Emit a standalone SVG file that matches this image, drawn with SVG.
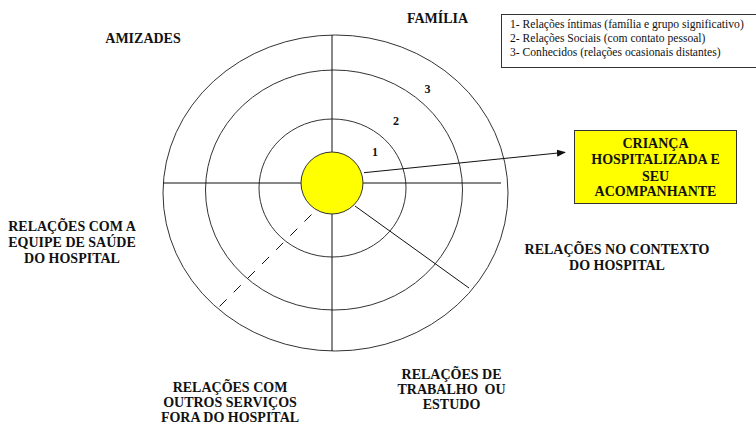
<svg xmlns="http://www.w3.org/2000/svg" width="756" height="424" viewBox="0 0 756 424">
<style>
.lbl{font-family:'Liberation Serif','Times New Roman',Times,'DejaVu Serif',serif;font-weight:bold;font-size:14px;fill:#111;text-anchor:middle;white-space:pre}
.num{font-family:'Liberation Serif','Times New Roman',Times,'DejaVu Serif',serif;font-weight:bold;font-size:12px;fill:#111;text-anchor:middle}
.leg{font-family:'Liberation Serif','Times New Roman',Times,'DejaVu Serif',serif;font-size:11.6px;fill:#111}
.ring{fill:none;stroke:#333;stroke-width:1}
.ln{stroke:#111;stroke-width:1;fill:none}
</style>
<defs>
<marker id="ah" viewBox="0 0 10 10" refX="9" refY="5" markerWidth="9" markerHeight="9" markerUnits="userSpaceOnUse" orient="auto">
<path d="M0,1 L10,5 L0,9 Z" fill="#111"/>
</marker>
</defs>
<rect width="756" height="424" fill="#fff"/>
<g id="rings">
<ellipse class="ring" cx="335.5" cy="193" rx="172.5" ry="158"/>
<ellipse class="ring" cx="334" cy="190" rx="128.5" ry="120"/>
<ellipse class="ring" cx="332.5" cy="188" rx="73.5" ry="69"/>
</g>
<g id="connectors">
<line class="ln" x1="332" y1="35" x2="332" y2="351"/>
<line class="ln" x1="163" y1="183" x2="501" y2="183"/>
<line class="ln" x1="355" y1="206" x2="469" y2="288"/>
<line class="ln" x1="311.5" y1="214.5" x2="216.5" y2="309.5" stroke-dasharray="10,10"/>
<line class="ln" x1="364" y1="172.7" x2="565" y2="152.3" marker-end="url(#ah)"/>
</g>
<g id="center">
<circle cx="332" cy="183" r="31" fill="#ffff00" stroke="#333" stroke-width="1"/>
</g>
<g id="numbers">
<text class="num" x="375" y="156">1</text>
<text class="num" x="396" y="124.5">2</text>
<text class="num" x="427.5" y="93">3</text>
</g>
<g id="legend">
<rect x="501.5" y="14.5" width="270" height="53" fill="#fff" stroke="#333" stroke-width="1"/>
<text class="leg" x="510" y="27.5">1- Relações íntimas (família e grupo significativo)</text>
<text class="leg" x="510" y="41.8">2- Relações Sociais (com contato pessoal)</text>
<text class="leg" x="510" y="56">3- Conhecidos (relações ocasionais distantes)</text>
</g>
<g id="crianca">
<rect x="574.5" y="130.5" width="162" height="73" fill="#ffff00" stroke="#333" stroke-width="1"/>
<text class="lbl" x="655.5" y="148">CRIANÇA</text>
<text class="lbl" x="655.5" y="164">HOSPITALIZADA E</text>
<text class="lbl" x="655.5" y="180.5">SEU</text>
<text class="lbl" x="655.5" y="196">ACOMPANHANTE</text>
</g>
<g id="familia"><text class="lbl" x="437.5" y="22.5">FAMÍLIA</text></g>
<g id="amizades"><text class="lbl" x="143" y="42.5">AMIZADES</text></g>
<g id="equipe">
<text class="lbl" x="72" y="231">RELAÇÕES COM A</text>
<text class="lbl" x="72" y="247">EQUIPE DE SAÚDE</text>
<text class="lbl" x="72" y="263">DO HOSPITAL</text>
</g>
<g id="contexto">
<text class="lbl" x="617" y="254">RELAÇÕES NO CONTEXTO</text>
<text class="lbl" x="617" y="270">DO HOSPITAL</text>
</g>
<g id="outros">
<text class="lbl" x="230" y="391.5">RELAÇÕES COM</text>
<text class="lbl" x="230" y="407">OUTROS SERVIÇOS</text>
<text class="lbl" x="230" y="422">FORA DO HOSPITAL</text>
</g>
<g id="trabalho">
<text class="lbl" x="451.5" y="378.5">RELAÇÕES DE</text>
<text class="lbl" x="451.5" y="394">TRABALHO  OU</text>
<text class="lbl" x="451.5" y="409">ESTUDO</text>
</g>
</svg>
